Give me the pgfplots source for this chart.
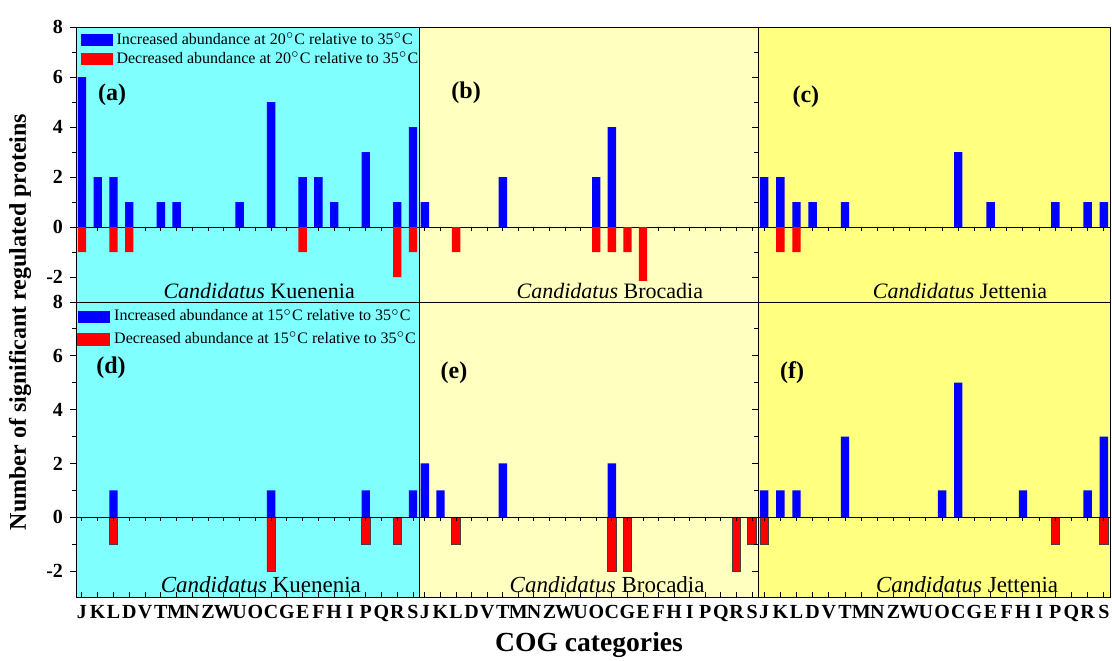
\documentclass[border=0pt]{standalone}
\usepackage{fontspec}
\setmainfont{Liberation Serif}
\usepackage{pgfplots}
\pgfplotsset{compat=1.18}
\definecolor{kue}{RGB}{128,255,255}
\definecolor{bro}{RGB}{255,255,192}
\definecolor{jet}{RGB}{255,255,128}
\definecolor{barblue}{RGB}{0,0,255}
\definecolor{barred}{RGB}{255,0,0}
\pgfplotsset{
  panel/.style={
    scale only axis, anchor=north west,
    xmin=-0.38, xmax=21.38, ymin=-3, ymax=8,
    ytick={-2,0,...,8}, minor ytick={-1,1,...,7},
    ytick pos=left, ytick align=outside,
    xtick align=inside, xtick pos=bottom,
    major tick length=3pt, minor tick length=2pt,
    axis line style={black, line width=0.5pt},
    tick style={black, line width=0.5pt},
    /pgf/number format/assume math mode=true,
    tick label style={font=\fontsize{10}{10}\selectfont\bfseries},
    legend style={draw=none, fill=none, font=\fontsize{8}{8}\selectfont, row sep=-1.5pt, inner sep=0pt},
    legend cell align=left,
  },
  toprow/.style={xtick=\empty, height=137.5pt},
  botrow/.style={xtick={0,...,21}, xticklabels={J,K,L,D,V,T,M,N,Z,W,U,O,C,G,E,F,H,I,P,Q,R,S}, height=148pt},
  nolab/.style={yticklabels={}},
  bluebar/.style={ybar, bar width=4.2pt, bar shift=0pt, fill=barblue, draw=none,
     legend image code/.code={\fill[barblue] (0pt,-3pt) rectangle (16pt,3pt);}},
  redbar/.style={ybar, bar width=4.2pt, bar shift=0pt, fill=barred, draw=none,
     legend image code/.code={\fill[barred] (0pt,-3pt) rectangle (16pt,3pt);}},
  redbarb/.style={ybar, bar width=4.2pt, bar shift=0pt, fill=barred, draw=black!75, line width=0.4pt,
     legend image code/.code={\fill[barred] (0pt,-3pt) rectangle (16pt,3pt);}},
}
\newcommand{\zeroline}{%
  \draw[black, line width=0.5pt] (axis cs:-0.38,0) -- (axis cs:21.38,0);
  \pgfplotsinvokeforeach{0,...,21}{\draw[black, line width=0.5pt] (axis cs:##1,0) -- ++(0pt,-1.8pt);}%
}
\newcommand{\species}[3]{\node[anchor=base, font=\fontsize{#3}{#3}\selectfont] at (rel axis cs:#1) {\textit{Candidatus} #2};}
\newcommand{\plabel}[2]{\node[font=\fontsize{12}{12}\selectfont\bfseries] at (rel axis cs:#1) {(#2)};}
\begin{document}
\begin{tikzpicture}
\path[use as bounding box] (-38pt,13.5pt) rectangle (518pt,-316.5pt);
% ---------- (b)
\begin{axis}[panel, toprow, nolab, at={(171.5pt,0pt)}, width=169.5pt, axis background/.style={fill=bro}]
\zeroline
\addplot[bluebar] coordinates {(0,1)(5,2)(11,2)(12,4)};
\addplot[redbar] coordinates {(2,-1)(11,-1)(12,-1)(13,-1)(14,-2.15)};
\species{0.563,0.0145}{Brocadia}{11}
\plabel{0.139,0.76}{b}
\end{axis}
% ---------- (c)
\begin{axis}[panel, toprow, nolab, at={(341pt,0pt)}, width=176pt, axis background/.style={fill=jet}]
\zeroline
\addplot[bluebar] coordinates {(0,2)(1,2)(2,1)(3,1)(5,1)(12,3)(14,1)(18,1)(20,1)(21,1)};
\addplot[redbar] coordinates {(1,-1)(2,-1)};
\species{0.574,0.0145}{Jettenia}{11}
\plabel{0.136,0.745}{c}
\end{axis}
% ---------- (e)
\begin{axis}[panel, botrow, nolab, at={(171.5pt,-137.5pt)}, width=169.5pt, axis background/.style={fill=bro}]
\addplot[bluebar] coordinates {(0,2)(1,1)(5,2)(12,2)};
\addplot[redbarb] coordinates {(2,-1)(12,-2)(13,-2)(20,-2)(21,-1)};
\zeroline
\species{0.555,0.02}{Brocadia}{11.5}
\plabel{0.103,0.76}{e}
\end{axis}
% ---------- (f)
\begin{axis}[panel, botrow, nolab, at={(341pt,-137.5pt)}, width=176pt, axis background/.style={fill=jet}]
\addplot[bluebar] coordinates {(0,1)(1,1)(2,1)(5,3)(11,1)(12,5)(16,1)(20,1)(21,3)};
\addplot[redbarb] coordinates {(0,-1)(18,-1)(21,-1)};
\zeroline
\species{0.594,0.02}{Jettenia}{11.5}
\plabel{0.097,0.76}{f}
\end{axis}
% ---------- (a)
\begin{axis}[panel, toprow, at={(0pt,0pt)}, width=171.5pt, axis background/.style={fill=kue},
  legend style={at={(0.012,0.995)}, anchor=north west}]
\zeroline
\addplot[bluebar] coordinates {(0,6)(1,2)(2,2)(3,1)(5,1)(6,1)(10,1)(12,5)(14,2)(15,2)(16,1)(18,3)(20,1)(21,4)};
\addplot[redbar] coordinates {(0,-1)(2,-1)(3,-1)(14,-1)(20,-2)(21,-1)};
\addlegendentry{Increased abundance at 20$^{\circ}$C relative to 35$^{\circ}$C}
\addlegendentry{Decreased abundance at 20$^{\circ}$C relative to 35$^{\circ}$C}
\species{0.534,0.0145}{Kuenenia}{11}
\plabel{0.105,0.753}{a}
\end{axis}
% ---------- (d)
\begin{axis}[panel, botrow, at={(0pt,-137.5pt)}, width=171.5pt, axis background/.style={fill=kue},
  legend style={at={(0.003,0.99)}, anchor=north west, row sep=0pt}]
\addplot[bluebar] coordinates {(2,1)(12,1)(18,1)(21,1)};
\addplot[redbarb] coordinates {(2,-1)(12,-2)(18,-1)(20,-1)};
\zeroline
\addlegendentry{Increased abundance at 15$^{\circ}$C relative to 35$^{\circ}$C}
\addlegendentry{Decreased abundance at 15$^{\circ}$C relative to 35$^{\circ}$C}
\species{0.539,0.02}{Kuenenia}{11.5}
\plabel{0.102,0.777}{d}
\end{axis}
\node[rotate=90, font=\fontsize{12}{12}\selectfont\bfseries] at (-28pt,-147.5pt) {Number of significant regulated proteins};
\node[font=\fontsize{13.8}{14}\selectfont\bfseries] at (256.5pt,-309pt) {COG categories};
\end{tikzpicture}
\end{document}
